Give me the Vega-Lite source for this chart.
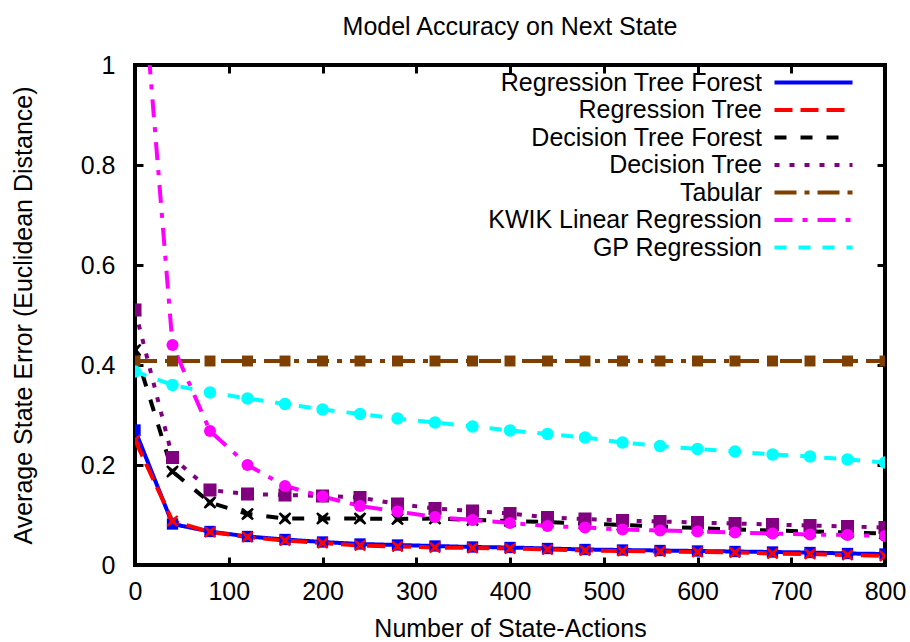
{
  "$schema": "https://vega.github.io/schema/vega-lite/v6.json",
  "width": 750,
  "height": 500,
  "autosize": {"type": "none"},
  "padding": {"left": 135, "top": 65, "right": 25, "bottom": 77},
  "title": {"text": "Model Accuracy on Next State", "fontSize": 25, "font": "Liberation Sans", "fontWeight": "normal", "offset": 13, "anchor": "middle", "color": "black"},
  "config": {
    "view": {"stroke": "black", "strokeWidth": 4},
    "font": "Liberation Sans",
    "axis": {"labelColor": "black", "titleColor": "black", "labelFont": "Liberation Sans", "titleFont": "Liberation Sans"},
    "legend": {"symbolType": "M-6,0L6,0", "symbolSize": 169, "symbolStrokeWidth": 4, "labelFontSize": 25, "labelFont": "Liberation Sans", "labelColor": "black", "rowPadding": 1.5, "padding": 0, "labelLimit": 500}
  },
  "data": {"values": [
    {"s": "Regression Tree Forest", "x": 0, "e": 0.27},
    {"s": "Regression Tree Forest", "x": 40, "e": 0.082},
    {"s": "Regression Tree Forest", "x": 80, "e": 0.067},
    {"s": "Regression Tree Forest", "x": 120, "e": 0.057},
    {"s": "Regression Tree Forest", "x": 160, "e": 0.051},
    {"s": "Regression Tree Forest", "x": 200, "e": 0.046},
    {"s": "Regression Tree Forest", "x": 240, "e": 0.042},
    {"s": "Regression Tree Forest", "x": 280, "e": 0.040},
    {"s": "Regression Tree Forest", "x": 320, "e": 0.038},
    {"s": "Regression Tree Forest", "x": 360, "e": 0.036},
    {"s": "Regression Tree Forest", "x": 400, "e": 0.035},
    {"s": "Regression Tree Forest", "x": 440, "e": 0.033},
    {"s": "Regression Tree Forest", "x": 480, "e": 0.031},
    {"s": "Regression Tree Forest", "x": 520, "e": 0.030},
    {"s": "Regression Tree Forest", "x": 560, "e": 0.029},
    {"s": "Regression Tree Forest", "x": 600, "e": 0.028},
    {"s": "Regression Tree Forest", "x": 640, "e": 0.027},
    {"s": "Regression Tree Forest", "x": 680, "e": 0.026},
    {"s": "Regression Tree Forest", "x": 720, "e": 0.025},
    {"s": "Regression Tree Forest", "x": 760, "e": 0.023},
    {"s": "Regression Tree Forest", "x": 800, "e": 0.022},
    {"s": "Regression Tree", "x": 0, "e": 0.25},
    {"s": "Regression Tree", "x": 40, "e": 0.088},
    {"s": "Regression Tree", "x": 80, "e": 0.066},
    {"s": "Regression Tree", "x": 120, "e": 0.056},
    {"s": "Regression Tree", "x": 160, "e": 0.049},
    {"s": "Regression Tree", "x": 200, "e": 0.044},
    {"s": "Regression Tree", "x": 240, "e": 0.039},
    {"s": "Regression Tree", "x": 280, "e": 0.037},
    {"s": "Regression Tree", "x": 320, "e": 0.035},
    {"s": "Regression Tree", "x": 360, "e": 0.034},
    {"s": "Regression Tree", "x": 400, "e": 0.033},
    {"s": "Regression Tree", "x": 440, "e": 0.031},
    {"s": "Regression Tree", "x": 480, "e": 0.029},
    {"s": "Regression Tree", "x": 520, "e": 0.028},
    {"s": "Regression Tree", "x": 560, "e": 0.027},
    {"s": "Regression Tree", "x": 600, "e": 0.026},
    {"s": "Regression Tree", "x": 640, "e": 0.025},
    {"s": "Regression Tree", "x": 680, "e": 0.023},
    {"s": "Regression Tree", "x": 720, "e": 0.022},
    {"s": "Regression Tree", "x": 760, "e": 0.020},
    {"s": "Regression Tree", "x": 800, "e": 0.018},
    {"s": "Decision Tree Forest", "x": 0, "e": 0.43},
    {"s": "Decision Tree Forest", "x": 40, "e": 0.187},
    {"s": "Decision Tree Forest", "x": 80, "e": 0.125},
    {"s": "Decision Tree Forest", "x": 120, "e": 0.102},
    {"s": "Decision Tree Forest", "x": 160, "e": 0.093},
    {"s": "Decision Tree Forest", "x": 200, "e": 0.093},
    {"s": "Decision Tree Forest", "x": 240, "e": 0.093},
    {"s": "Decision Tree Forest", "x": 280, "e": 0.092},
    {"s": "Decision Tree Forest", "x": 320, "e": 0.093},
    {"s": "Decision Tree Forest", "x": 360, "e": 0.090},
    {"s": "Decision Tree Forest", "x": 400, "e": 0.088},
    {"s": "Decision Tree Forest", "x": 440, "e": 0.086},
    {"s": "Decision Tree Forest", "x": 480, "e": 0.083},
    {"s": "Decision Tree Forest", "x": 520, "e": 0.080},
    {"s": "Decision Tree Forest", "x": 560, "e": 0.077},
    {"s": "Decision Tree Forest", "x": 600, "e": 0.074},
    {"s": "Decision Tree Forest", "x": 640, "e": 0.071},
    {"s": "Decision Tree Forest", "x": 680, "e": 0.069},
    {"s": "Decision Tree Forest", "x": 720, "e": 0.067},
    {"s": "Decision Tree Forest", "x": 760, "e": 0.065},
    {"s": "Decision Tree Forest", "x": 800, "e": 0.063},
    {"s": "Decision Tree", "x": 0, "e": 0.51},
    {"s": "Decision Tree", "x": 40, "e": 0.215},
    {"s": "Decision Tree", "x": 80, "e": 0.15},
    {"s": "Decision Tree", "x": 120, "e": 0.142},
    {"s": "Decision Tree", "x": 160, "e": 0.14},
    {"s": "Decision Tree", "x": 200, "e": 0.138},
    {"s": "Decision Tree", "x": 240, "e": 0.135},
    {"s": "Decision Tree", "x": 280, "e": 0.122},
    {"s": "Decision Tree", "x": 320, "e": 0.113},
    {"s": "Decision Tree", "x": 360, "e": 0.108},
    {"s": "Decision Tree", "x": 400, "e": 0.103},
    {"s": "Decision Tree", "x": 440, "e": 0.095},
    {"s": "Decision Tree", "x": 480, "e": 0.092},
    {"s": "Decision Tree", "x": 520, "e": 0.089},
    {"s": "Decision Tree", "x": 560, "e": 0.087},
    {"s": "Decision Tree", "x": 600, "e": 0.085},
    {"s": "Decision Tree", "x": 640, "e": 0.083},
    {"s": "Decision Tree", "x": 680, "e": 0.081},
    {"s": "Decision Tree", "x": 720, "e": 0.079},
    {"s": "Decision Tree", "x": 760, "e": 0.077},
    {"s": "Decision Tree", "x": 800, "e": 0.075},
    {"s": "Tabular", "x": 0, "e": 0.408},
    {"s": "Tabular", "x": 40, "e": 0.408},
    {"s": "Tabular", "x": 80, "e": 0.408},
    {"s": "Tabular", "x": 120, "e": 0.408},
    {"s": "Tabular", "x": 160, "e": 0.408},
    {"s": "Tabular", "x": 200, "e": 0.408},
    {"s": "Tabular", "x": 240, "e": 0.408},
    {"s": "Tabular", "x": 280, "e": 0.408},
    {"s": "Tabular", "x": 320, "e": 0.408},
    {"s": "Tabular", "x": 360, "e": 0.408},
    {"s": "Tabular", "x": 400, "e": 0.408},
    {"s": "Tabular", "x": 440, "e": 0.408},
    {"s": "Tabular", "x": 480, "e": 0.408},
    {"s": "Tabular", "x": 520, "e": 0.408},
    {"s": "Tabular", "x": 560, "e": 0.408},
    {"s": "Tabular", "x": 600, "e": 0.408},
    {"s": "Tabular", "x": 640, "e": 0.408},
    {"s": "Tabular", "x": 680, "e": 0.408},
    {"s": "Tabular", "x": 720, "e": 0.408},
    {"s": "Tabular", "x": 760, "e": 0.408},
    {"s": "Tabular", "x": 800, "e": 0.408},
    {"s": "KWIK Linear Regression", "x": 0, "e": 1.36},
    {"s": "KWIK Linear Regression", "x": 40, "e": 0.44},
    {"s": "KWIK Linear Regression", "x": 80, "e": 0.268},
    {"s": "KWIK Linear Regression", "x": 120, "e": 0.2},
    {"s": "KWIK Linear Regression", "x": 160, "e": 0.158},
    {"s": "KWIK Linear Regression", "x": 200, "e": 0.137},
    {"s": "KWIK Linear Regression", "x": 240, "e": 0.118},
    {"s": "KWIK Linear Regression", "x": 280, "e": 0.107},
    {"s": "KWIK Linear Regression", "x": 320, "e": 0.096},
    {"s": "KWIK Linear Regression", "x": 360, "e": 0.09},
    {"s": "KWIK Linear Regression", "x": 400, "e": 0.084},
    {"s": "KWIK Linear Regression", "x": 440, "e": 0.078},
    {"s": "KWIK Linear Regression", "x": 480, "e": 0.075},
    {"s": "KWIK Linear Regression", "x": 520, "e": 0.071},
    {"s": "KWIK Linear Regression", "x": 560, "e": 0.069},
    {"s": "KWIK Linear Regression", "x": 600, "e": 0.067},
    {"s": "KWIK Linear Regression", "x": 640, "e": 0.065},
    {"s": "KWIK Linear Regression", "x": 680, "e": 0.063},
    {"s": "KWIK Linear Regression", "x": 720, "e": 0.061},
    {"s": "KWIK Linear Regression", "x": 760, "e": 0.06},
    {"s": "KWIK Linear Regression", "x": 800, "e": 0.058},
    {"s": "GP Regression", "x": 0, "e": 0.387},
    {"s": "GP Regression", "x": 40, "e": 0.36},
    {"s": "GP Regression", "x": 80, "e": 0.345},
    {"s": "GP Regression", "x": 120, "e": 0.333},
    {"s": "GP Regression", "x": 160, "e": 0.322},
    {"s": "GP Regression", "x": 200, "e": 0.311},
    {"s": "GP Regression", "x": 240, "e": 0.302},
    {"s": "GP Regression", "x": 280, "e": 0.293},
    {"s": "GP Regression", "x": 320, "e": 0.285},
    {"s": "GP Regression", "x": 360, "e": 0.277},
    {"s": "GP Regression", "x": 400, "e": 0.269},
    {"s": "GP Regression", "x": 440, "e": 0.262},
    {"s": "GP Regression", "x": 480, "e": 0.255},
    {"s": "GP Regression", "x": 520, "e": 0.245},
    {"s": "GP Regression", "x": 560, "e": 0.238},
    {"s": "GP Regression", "x": 600, "e": 0.232},
    {"s": "GP Regression", "x": 640, "e": 0.227},
    {"s": "GP Regression", "x": 680, "e": 0.221},
    {"s": "GP Regression", "x": 720, "e": 0.217},
    {"s": "GP Regression", "x": 760, "e": 0.211},
    {"s": "GP Regression", "x": 800, "e": 0.205}
  ]},
  "resolve": {"axis": {"x": "independent", "y": "independent"}},
  "layer": [
    {
      "mark": {"type": "line", "strokeWidth": 4, "clip": true},
      "encoding": {
        "x": {"field": "x", "type": "quantitative", "scale": {"domain": [0, 800], "nice": false},
          "axis": {"orient": "bottom", "title": "Number of State-Actions", "values": [0, 100, 200, 300, 400, 500, 600, 700, 800], "grid": false, "domain": false, "tickSize": -8, "tickWidth": 3, "tickColor": "black", "labelFontSize": 25, "titleFontSize": 25, "titleFontWeight": "normal", "labelPadding": 22, "titlePadding": 12, "labelFlush": false}},
        "y": {"field": "e", "type": "quantitative", "scale": {"domain": [0, 1], "nice": false},
          "axis": {"orient": "left", "title": "Average State Error (Euclidean Distance)", "values": [0, 0.2, 0.4, 0.6, 0.8, 1], "format": ".1~f", "grid": false, "domain": false, "tickSize": -8, "tickWidth": 3, "tickColor": "black", "labelFontSize": 25, "titleFontSize": 25, "titleFontWeight": "normal", "labelPadding": 28, "titlePadding": 44, "labelFlush": false}},
        "color": {"field": "s", "type": "nominal",
          "scale": {"domain": ["Regression Tree Forest", "Regression Tree", "Decision Tree Forest", "Decision Tree", "Tabular", "KWIK Linear Regression", "GP Regression"],
                    "range": ["#0000ff", "#ff0000", "#000000", "#800080", "#7f3f00", "#ff00ff", "#00ffff"]},
          "legend": {"orient": "none", "legendX": 666, "legendY": 5, "title": null, "labelAlign": "right", "labelOffset": -64}},
        "strokeDash": {"field": "s", "type": "nominal",
          "scale": {"domain": ["Regression Tree Forest", "Regression Tree", "Decision Tree Forest", "Decision Tree", "Tabular", "KWIK Linear Regression", "GP Regression"],
                    "range": [[1, 0], [18, 8], [12, 14], [5, 10], [22, 8, 5, 8], [18, 10, 5, 10], [12, 12]]}}
      }
    },
    {
      "mark": {"type": "point", "filled": true, "opacity": 1, "clip": true, "strokeWidth": 0},
      "encoding": {
        "x": {"field": "x", "type": "quantitative",
          "axis": {"orient": "top", "title": null, "labels": false, "values": [0, 100, 200, 300, 400, 500, 600, 700, 800], "grid": false, "domain": false, "tickSize": -8, "tickWidth": 3, "tickColor": "black"}},
        "y": {"field": "e", "type": "quantitative",
          "axis": {"orient": "right", "title": null, "labels": false, "values": [0, 0.2, 0.4, 0.6, 0.8, 1], "grid": false, "domain": false, "tickSize": -8, "tickWidth": 3, "tickColor": "black"}},
        "fill": {"field": "s", "type": "nominal", "legend": null,
          "scale": {"domain": ["Decision Tree", "Decision Tree Forest", "GP Regression", "KWIK Linear Regression", "Regression Tree", "Regression Tree Forest", "Tabular"],
                    "range": ["#800080", "#000000", "#00ffff", "#ff00ff", "#ff0000", "#0000ff", "#7f3f00"]}},
        "shape": {"field": "s", "type": "nominal", "legend": null,
          "scale": {"domain": ["Decision Tree", "Decision Tree Forest", "GP Regression", "KWIK Linear Regression", "Regression Tree", "Regression Tree Forest", "Tabular"],
                    "range": ["square", "M-0.75,-1L0,-0.4L0.75,-1L1,-0.75L0.4,0L1,0.75L0.75,1L0,0.4L-0.75,1L-1,0.75L-0.4,0L-1,-0.75Z", "circle", "circle", "M-0.75,-1L0,-0.4L0.75,-1L1,-0.75L0.4,0L1,0.75L0.75,1L0,0.4L-0.75,1L-1,0.75L-0.4,0L-1,-0.75Z", "square", "square"]}},
        "size": {"field": "s", "type": "nominal", "legend": null,
          "scale": {"domain": ["Decision Tree", "Decision Tree Forest", "GP Regression", "KWIK Linear Regression", "Regression Tree", "Regression Tree Forest", "Tabular"],
                    "range": [170, 120, 64, 190, 130, 25, 64]}}
      }
    }
  ]
}
